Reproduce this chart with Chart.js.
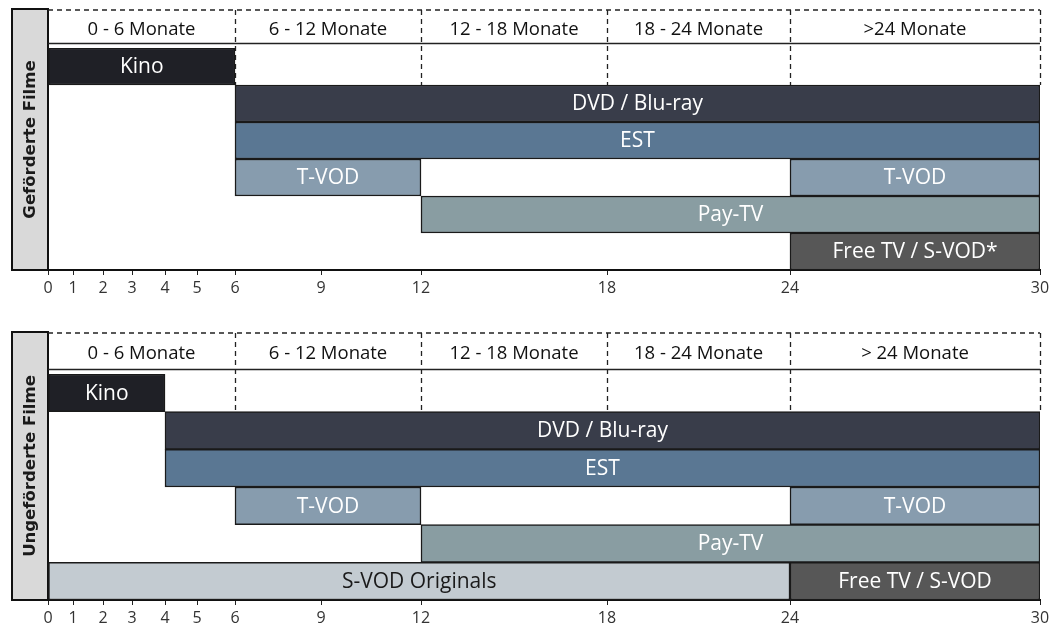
<!DOCTYPE html>
<html>
<head>
<meta charset="utf-8">
<script src="https://cdn.jsdelivr.net/npm/chart.js@4.4.1/dist/chart.umd.min.js"></script>
<style>
    body { margin: 0; background: #fff; }
    .panel { position: absolute; left: 0; }
</style>
</head>
<body>
<div class="panel" style="top:0"><canvas id="topChart" width="1051" height="300"></canvas></div>
<div class="panel" style="top:300px"><canvas id="bottomChart" width="1051" height="328"></canvas></div>
<script>

// month ticks on the time axis and the header blocks
const monthTicks = [0, 1, 2, 3, 4, 5, 6, 9, 12, 18, 24, 30];
const headerBounds = [0, 6, 12, 18, 24, 30];
const headersTop = ['0 - 6 Monate', '6 - 12 Monate', '12 - 18 Monate', '18 - 24 Monate', '>24 Monate'];
const headersBottom = ['0 - 6 Monate', '6 - 12 Monate', '12 - 18 Monate', '18 - 24 Monate', '> 24 Monate'];

// Geförderte Filme
const rowsTop = ['Kino', 'DVD / Blu-ray', 'EST', 'T-VOD', 'Pay-TV', 'Free TV / S-VOD*'];
const segNamesTop = ['Kino', 'DVD / Blu-ray', 'EST', 'T-VOD', 'T-VOD', 'Pay-TV', 'Free TV / S-VOD*'];
const segRowsTop = [0, 1, 2, 3, 3, 4, 5];
const segStartTop = [0, 6, 6, 6, 24, 12, 24];
const segEndTop = [6, 30, 30, 12, 30, 30, 30];

// Ungeförderte Filme
const rowsBottom = ['Kino', 'DVD / Blu-ray', 'EST', 'T-VOD', 'Pay-TV', 'S-VOD Originals / Free TV'];
const segNamesBottom = ['Kino', 'DVD / Blu-ray', 'EST', 'T-VOD', 'T-VOD', 'Pay-TV', 'S-VOD Originals', 'Free TV / S-VOD'];
const segRowsBottom = [0, 1, 2, 3, 3, 4, 5, 5];
const segStartBottom = [0, 4, 4, 6, 24, 12, 0, 24];
const segEndBottom = [4, 30, 30, 12, 30, 30, 24, 30];

// where each month tick sits along the axis (the axis is not evenly spaced)
const tickSpots = [0, 25, 55, 84, 117, 149, 187, 273, 373, 559, 742, 992];

const colors = {
    'Kino': '#1f2026',
    'DVD / Blu-ray': '#393d4a',
    'EST': '#5a7793',
    'T-VOD': '#879cae',
    'Pay-TV': '#899da2',
    'Free TV / S-VOD*': '#575757',
    'Free TV / S-VOD': '#575757',
    'S-VOD Originals': '#c3cbd1'
};

class MonthScale extends Chart.LinearScale {
    buildTicks() {
        return monthTicks.map(v => ({ value: v }));
    }
    getPixelForValue(value) {
        const last = tickSpots[tickSpots.length - 1];
        let i = 0;
        while (i < monthTicks.length - 2 && value > monthTicks[i + 1]) i++;
        const t = (value - monthTicks[i]) / (monthTicks[i + 1] - monthTicks[i]);
        const spot = tickSpots[i] + t * (tickSpots[i + 1] - tickSpots[i]);
        return this.getPixelForDecimal(spot / last);
    }
    getValueForPixel(pixel) {
        const last = tickSpots[tickSpots.length - 1];
        const spot = this.getDecimalForPixel(pixel) * last;
        let i = 0;
        while (i < tickSpots.length - 2 && spot > tickSpots[i + 1]) i++;
        const t = (spot - tickSpots[i]) / (tickSpots[i + 1] - tickSpots[i]);
        return monthTicks[i] + t * (monthTicks[i + 1] - monthTicks[i]);
    }
}
MonthScale.id = 'months';
MonthScale.defaults = Chart.LinearScale.defaults;
Chart.register(MonthScale);

function framePlugin(title, headers, headerTop) {
    return {
        id: 'frame',
        beforeDatasetsDraw(chart) {
            const { ctx, chartArea: a, scales: { x, y } } = chart;
            const headLine = a.top - 4.5;
            const rowEnd = y.getPixelForValue(0.5);
            ctx.save();

            // grey side label
            ctx.fillStyle = '#d9d9d9';
            ctx.fillRect(12, headerTop, a.left - 12, a.bottom - headerTop);
            ctx.strokeStyle = '#111';
            ctx.lineWidth = 2;
            ctx.strokeRect(12, headerTop, a.left - 12, a.bottom - headerTop);

            ctx.save();
            ctx.translate(30, (headerTop + a.bottom) / 2);
            ctx.rotate(-Math.PI / 2);
            ctx.fillStyle = '#1a1a1a';
            ctx.font = 'bold 16.5px "DejaVu Sans"';
            ctx.textAlign = 'center';
            ctx.textBaseline = 'middle';
            ctx.fillText(title, 0, 1);
            ctx.restore();

            // dashed header frame
            ctx.strokeStyle = '#222';
            ctx.lineWidth = 1.3;
            ctx.setLineDash([5, 4]);
            ctx.beginPath();
            ctx.moveTo(a.left, headerTop + 1);
            ctx.lineTo(a.right, headerTop + 1);
            headerBounds.slice(1).forEach(m => {
                const px = Math.round(x.getPixelForValue(m)) + 0.5;
                ctx.moveTo(px, headerTop + 1);
                ctx.lineTo(px, rowEnd);
            });
            ctx.stroke();
            ctx.setLineDash([]);

            ctx.lineWidth = 1.6;
            ctx.beginPath();
            ctx.moveTo(a.left, headLine);
            ctx.lineTo(a.right, headLine);
            ctx.stroke();

            ctx.fillStyle = '#111';
            ctx.font = '18.5px "Open Sans"';
            ctx.textAlign = 'center';
            ctx.textBaseline = 'middle';
            headers.forEach((h, i) => {
                const cx = (x.getPixelForValue(headerBounds[i]) + x.getPixelForValue(headerBounds[i + 1])) / 2;
                ctx.fillText(h, cx, (headerTop + headLine) / 2 + 3);
            });
            ctx.restore();
        },
        afterDatasetsDraw(chart) {
            const ctx = chart.ctx;
            ctx.save();
            ctx.font = '21px "Open Sans"';
            ctx.textAlign = 'center';
            ctx.textBaseline = 'middle';
            chart.data.datasets.forEach((ds, i) => {
                const meta = chart.getDatasetMeta(i);
                meta.data.forEach((el, j) => {
                    if (!ds.data[j]) return;
                    ctx.fillStyle = ds.label === 'S-VOD Originals' ? '#1a1a1a' : '#fff';
                    ctx.fillText(ds.label, (el.x + el.base) / 2, el.y + 1);
                });
            });
            ctx.restore();
        }
    };
}

function buildChart(canvasId, rows, names, segRows, segStart, segEnd, title, headers, headerTop, topPad, axisHeight) {
    const datasets = names.map((name, k) => ({
        label: name,
        data: rows.map((_, r) => r === segRows[k] ? [segStart[k], segEnd[k]] : null),
        backgroundColor: colors[name],
        borderColor: '#1a1a1a',
        borderWidth: 1.5,
        borderSkipped: false,
        grouped: false,
        barPercentage: 1,
        categoryPercentage: 1
    }));

    new Chart(document.getElementById(canvasId), {
        type: 'bar',
        data: { labels: rows, datasets: datasets },
        options: {
            indexAxis: 'y',
            responsive: false,
            animation: false,
            layout: { padding: { left: 48, right: 11, top: topPad, bottom: 0 } },
            plugins: { legend: { display: false }, tooltip: { enabled: false } },
            scales: {
                x: {
                    type: 'months',
                    min: 0,
                    max: 30,
                    afterFit: s => {
                        s.height = axisHeight;
                        s.paddingLeft = 0;
                        s.paddingRight = 0;
                    },
                    grid: { display: true, drawOnChartArea: false, drawTicks: true, tickLength: 5, color: '#222' },
                    border: { display: true, color: '#111', width: 2 },
                    ticks: {
                        autoSkip: false,
                        maxRotation: 0,
                        padding: 4,
                        color: '#333',
                        font: { family: 'Open Sans', size: 16 },
                        callback: v => String(v)
                    }
                },
                y: { display: false, grid: { display: false } }
            }
        },
        plugins: [framePlugin(title, headers, headerTop)]
    });
}

buildChart('topChart', rowsTop, segNamesTop, segRowsTop, segStartTop, segEndTop,
    'Geförderte Filme', headersTop, 9, 48, 30);
buildChart('bottomChart', rowsBottom, segNamesBottom, segRowsBottom, segStartBottom, segEndBottom,
    'Ungeförderte Filme', headersBottom, 32, 74, 28);

</script>
</body>
</html>
